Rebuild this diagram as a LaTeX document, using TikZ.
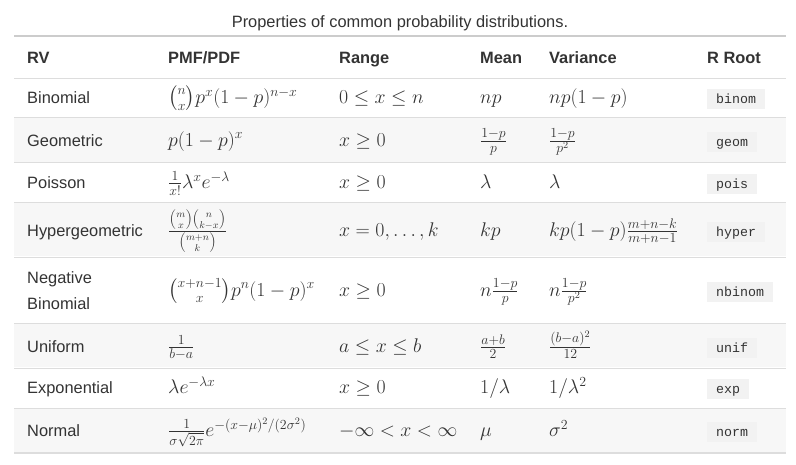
\RequirePackage{fix-cm}
\documentclass[tikz,border=0pt]{standalone}
\usepackage{amsmath}
\usepackage[no-math]{fontspec}
\newfontfamily\rvsans{Liberation Sans}
\newfontfamily\rvmono{Liberation Mono}
\definecolor{ink}{HTML}{333333}
\definecolor{rulegray}{HTML}{DDDDDD}
\definecolor{topgray}{HTML}{CCCCCC}
\definecolor{stripe}{HTML}{F7F7F7}
\definecolor{codebg}{HTML}{F2F2F2}
\begin{document}
\begin{tikzpicture}[x=1pt,y=-1pt,
	cell/.style={anchor=base west,inner sep=0pt,text=ink,font=\rvsans\fontsize{16.4}{19.7}\selectfont},
	head/.style={cell,font=\rvsans\bfseries\fontsize{16.4}{19.7}\selectfont},
	formula/.style={anchor=base west,inner sep=0pt,text=ink,font=\fontsize{19.8}{23.8}\selectfont},
	rcode/.style={anchor=base west,inner xsep=9pt,inner ysep=0pt,text height=14.5pt,text depth=5.5pt,fill=codebg,text=ink,font=\rvmono\fontsize{13.3}{16}\selectfont}]
	\useasboundingbox (0,0) rectangle (796,464);
	% shading of every other row - must be drawn before the rest!
	\fill[stripe] (14,117.8) rectangle (786,162);
	\fill[stripe] (14,202.8) rectangle (786,256.2);
	\fill[stripe] (14,323.8) rectangle (786,367.2);
	\fill[stripe] (14,408.2) rectangle (786,452.5);
	% caption
	\node[cell,anchor=base] (caption) at (400,27) {Properties of common probability distributions.};
	% rules of the table
	\draw[topgray,line width=2pt] (14,35.5) -- (786,35.5);
	\draw[rulegray] (14,77.7) -- (786,77.7);
	\draw[rulegray] (14,117.3) -- (786,117.3);
	\draw[rulegray] (14,162.3) -- (786,162.3);
	\draw[rulegray] (14,202.3) -- (786,202.3);
	\draw[rulegray] (14,256.7) -- (786,256.7);
	\draw[rulegray] (14,323.3) -- (786,323.3);
	\draw[rulegray] (14,367.7) -- (786,367.7);
	\draw[rulegray] (14,407.7) -- (786,407.7);
	\draw[rulegray,line width=2pt] (14,453.3) -- (786,453.3);
	% header
	\node[head] (hrv) at (27,63) {RV};
	\node[head] (hpmf) at (168,63) {PMF/PDF};
	\node[head] (hrange) at (339,63) {Range};
	\node[head] (hmean) at (480,63) {Mean};
	\node[head] (hvar) at (549,63) {Variance};
	\node[head] (hroot) at (707,63) {R Root};
	% binomial
	\node[cell] (binomrv) at (27,103.5) {Binomial};
	\node[formula] (binompmf) at (168,103.5) {$\binom{n}{x}p^x(1-p)^{n-x}$};
	\node[formula] (binomrange) at (339,103.5) {$0\le x\le n$};
	\node[formula] (binommean) at (480,103.5) {$np$};
	\node[formula] (binomvar) at (549,103.5) {$np(1-p)$};
	\node[rcode] (binomroot) at (707,103.5) {binom};
	% geometric
	\node[cell] (geomrv) at (27,146) {Geometric};
	\node[formula] (geompmf) at (168,146) {$p(1-p)^x$};
	\node[formula] (geomrange) at (339,146) {$x\ge 0$};
	\node[formula] (geommean) at (480,146) {$\frac{1-p}{p}$};
	\node[formula] (geomvar) at (549,146) {$\frac{1-p}{p^2}$};
	\node[rcode] (geomroot) at (707,146) {geom};
	% poisson
	\node[cell] (poisrv) at (27,188.5) {Poisson};
	\node[formula] (poispmf) at (168,188.5) {$\frac{1}{x!}\lambda^x e^{-\lambda}$};
	\node[formula] (poisrange) at (339,188.5) {$x\ge 0$};
	\node[formula] (poismean) at (480,188.5) {$\lambda$};
	\node[formula] (poisvar) at (549,188.5) {$\lambda$};
	\node[rcode] (poisroot) at (707,188.5) {pois};
	% hypergeometric
	\node[cell] (hyperrv) at (27,236) {Hypergeometric};
	\node[formula] (hyperpmf) at (168,236) {$\frac{\binom{m}{x}\binom{n}{k-x}}{\binom{m+n}{k}}$};
	\node[formula] (hyperrange) at (339,236) {$x=0,\ldots,k$};
	\node[formula] (hypermean) at (480,236) {$kp$};
	\node[formula] (hypervar) at (549,236) {$kp(1-p)\frac{m+n-k}{m+n-1}$};
	\node[rcode] (hyperroot) at (707,236) {hyper};
	% negative binomial (base is the last line)
	\node[cell,align=left,font=\rvsans\fontsize{16.4}{26}\selectfont] (nbinomrv) at (27,309) {Negative\\Binomial};
	\node[formula] (nbinompmf) at (168,296) {$\binom{x+n-1}{x}p^n(1-p)^x$};
	\node[formula] (nbinomrange) at (339,296) {$x\ge 0$};
	\node[formula] (nbinommean) at (480,296) {$n\frac{1-p}{p}$};
	\node[formula] (nbinomvar) at (549,296) {$n\frac{1-p}{p^2}$};
	\node[rcode] (nbinomroot) at (707,296) {nbinom};
	% uniform
	\node[cell] (unifrv) at (27,352) {Uniform};
	\node[formula] (unifpmf) at (168,352) {$\frac{1}{b-a}$};
	\node[formula] (unifrange) at (339,352) {$a\le x\le b$};
	\node[formula] (unifmean) at (480,352) {$\frac{a+b}{2}$};
	\node[formula] (unifvar) at (549,352) {$\frac{(b-a)^2}{12}$};
	\node[rcode] (unifroot) at (707,352) {unif};
	% exponential
	\node[cell] (exprv) at (27,393.5) {Exponential};
	\node[formula] (exppmf) at (168,393.5) {$\lambda e^{-\lambda x}$};
	\node[formula] (exprange) at (339,393.5) {$x\ge 0$};
	\node[formula] (expmean) at (480,393.5) {$1/\lambda$};
	\node[formula] (expvar) at (549,393.5) {$1/\lambda^2$};
	\node[rcode] (exproot) at (707,393.5) {exp};
	% normal
	\node[cell] (normrv) at (27,436.5) {Normal};
	\node[formula] (normpmf) at (168,436.5) {$\frac{1}{\sigma\sqrt{2\pi}}e^{-(x-\mu)^2/(2\sigma^2)}$};
	\node[formula] (normrange) at (339,436.5) {$-\infty<x<\infty$};
	\node[formula] (normmean) at (480,436.5) {$\mu$};
	\node[formula] (normvar) at (549,436.5) {$\sigma^2$};
	\node[rcode] (normroot) at (707,436.5) {norm};
\end{tikzpicture}
\end{document}
